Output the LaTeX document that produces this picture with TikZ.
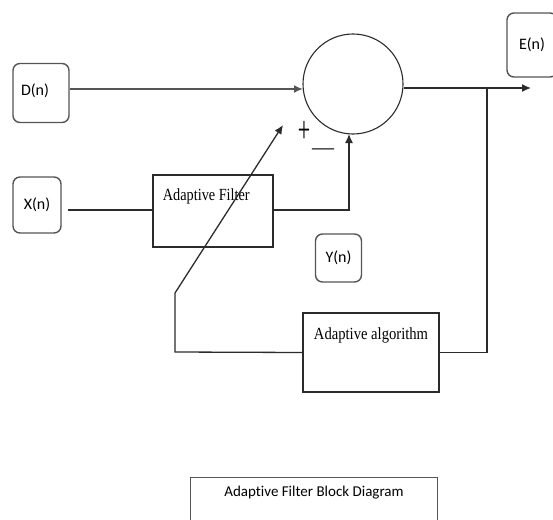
\documentclass[tikz,border=0pt]{standalone}
\usepackage{fontspec}
\setmainfont{Liberation Serif}
\newfontfamily\labelfont{Carlito}[Ligatures=NoCommon]
\usepackage{tikz}
\usetikzlibrary{arrows.meta, positioning, calc}
\definecolor{LineGray}{HTML}{2B2B2B}
\definecolor{BoxGray}{HTML}{555555}
\tikzset{
  sigbox/.style={rectangle, rounded corners=7pt, draw=BoxGray, line width=1.4pt, font=\labelfont\fontsize{16}{17}\selectfont, inner sep=0pt},
  blockbox/.style={rectangle, draw=LineGray, line width=1.3pt, inner sep=0pt},
  blocktext/.style={font=\fontsize{17}{18}\selectfont},
  sumnode/.style={circle, draw=LineGray, line width=1.1pt, minimum size=100pt, inner sep=0pt},
  wire/.style={draw=LineGray, line width=1.3pt},
  arrow/.style={wire, -{Latex[length=9pt, width=8pt]}}
}
\begin{document}
\begin{tikzpicture}[x=1pt, y=-1pt]
  \useasboundingbox (0,0) rectangle (553,519);

  % Signal labels
  \node[sigbox, minimum width=56pt, minimum height=59pt, text depth=6pt, text width=40pt] (dn) at (41,93) {D(n)};
  \node[sigbox, minimum width=48pt, minimum height=56pt] (xn) at (37,205) {X(n)};
  \node[sigbox, minimum width=46pt, minimum height=48pt] (yn) at (338.5,258) {Y(n)};
  \node[sigbox, minimum width=50pt, minimum height=64pt] (en) at (532,45) {E(n)};

  % Blocks
  \node[blockbox, minimum width=120pt, minimum height=72pt] (filter) at (213,211) {};
  \node[blocktext, anchor=north west] (filtertxt) at ($(filter.north west)+(7,11)$) {\scalebox{0.84}[1]{Adaptive Filter}};
  \node[blockbox, minimum width=136pt, minimum height=79pt] (algo) at (371,352.5) {};
  \node[blocktext, anchor=north] (algotxt) at ($(algo.north)+(0,12)$) {\scalebox{0.86}[1]{Adaptive algorithm}};
  \node[sumnode] (sum) at (353,84) {};
  \node[font=\fontsize{22}{22}\selectfont] (plus) at (304,132) {\scalebox{1}[1.7]{+}};
  \node[font=\fontsize{22}{22}\selectfont] (minus) at (323,152) {\textemdash};

  % Points
  \coordinate (xin) at (68,210);
  \coordinate (din) at (303,89);
  \coordinate (sumin) at (349,134);
  \coordinate (eout) at (531,88);
  \coordinate (tap) at (487,88);
  \coordinate (fbstart) at (175,352);
  \coordinate (fbturn) at (175,293);
  \coordinate (fbtip) at (283,125);

  % Connectors
  \draw[arrow, line width=2.4pt, draw=BoxGray] (dn.east |- din) -- (din);
  \draw[wire] (xin) -- (xin -| filter.west);
  \draw[arrow] (filter.east |- xin) -| (sumin);
  \draw[arrow] (sum.east |- eout) -- (eout);
  \draw[wire] (tap) |- (algo.east);
  \draw[wire] (algo.west) -- (fbstart) -- (fbturn);
  \draw[arrow] (fbturn) -- (fbtip);

  % Caption
  \node[blockbox, line width=1pt, draw=BoxGray, minimum width=247pt, minimum height=50pt, anchor=north west, font=\labelfont\fontsize{15}{16}\selectfont, text depth=22pt] (caption) at (190,477) {Adaptive Filter Block Diagram};
\end{tikzpicture}
\end{document}
